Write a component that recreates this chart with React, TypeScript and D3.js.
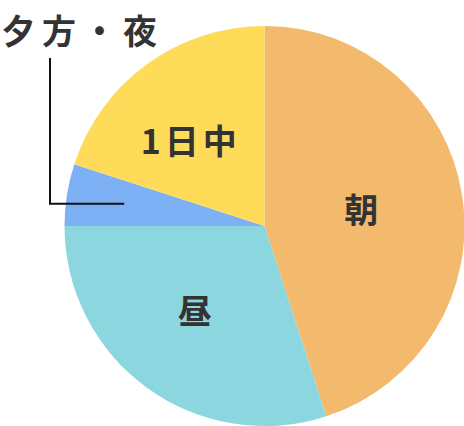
import React from "react";
import * as d3 from "d3";

const categories = ["朝", "昼", "夕方・夜", "1日中"];
const values = [45, 30, 5, 20];
const colors = ["#F3B96C", "#8CD6E0", "#7EB0F5", "#FEDC5A"];

const W = 464;
const H = 426;
const cx = 264.5;
const cy = 226;
const R = 200;

// label nudges (layout only)
const labelOffsets: Record<string, [number, number]> = {
  "朝": [-7, -1],
  "昼": [-8, -1],
  "1日中": [-14, -2],
};

export default function App() {
  const pie = d3
    .pie<number>()
    .sort(null)
    .value((d) => d)
    .startAngle(0)
    .endAngle(2 * Math.PI);
  const arcs = pie(values);
  const arc = d3.arc<d3.PieArcDatum<number>>().innerRadius(0).outerRadius(R);
  const labelArc = d3
    .arc<d3.PieArcDatum<number>>()
    .innerRadius(105)
    .outerRadius(105);
  const leaderArc = d3
    .arc<d3.PieArcDatum<number>>()
    .innerRadius(R * 0.71)
    .outerRadius(R * 0.71);

  const font = "'Noto Sans CJK JP', 'Noto Sans', sans-serif";

  return (
    <svg
      width={W}
      height={H}
      style={{ position: "absolute", left: 0, top: 0 }}
    >
      <g transform={`translate(${cx},${cy})`}>
        {arcs.map((a, i) => (
          <path key={categories[i]} d={arc(a) || ""} fill={colors[i]} />
        ))}
      </g>
      {arcs.map((a, i) => {
        const name = categories[i];
        if (name === "夕方・夜") {
          const [lx, ly] = leaderArc.centroid(a);
          const ex = cx + lx;
          const ey = cy + ly;
          return (
            <g key={name}>
              <polyline
                points={`${ex},${ey} 50,${ey} 50,58`}
                fill="none"
                stroke="#111"
                strokeWidth={2}
              />
              <text
                x={1.5}
                y={29}
                fontFamily={font}
                fontWeight={700}
                fontSize={34}
                letterSpacing={6.5}
                fill="#333"
                dominantBaseline="central"
              >
                {name}
              </text>
            </g>
          );
        }
        const [x, y] = labelArc.centroid(a);
        const off = labelOffsets[name] || [0, 0];
        return (
          <text
            key={name}
            x={cx + x + off[0] + 2}
            y={cy + y + off[1]}
            fontFamily={font}
            fontWeight={700}
            fontSize={34}
            letterSpacing={4}
            fill="#333"
            textAnchor="middle"
            dominantBaseline="central"
          >
            {name}
          </text>
        );
      })}
    </svg>
  );
}
